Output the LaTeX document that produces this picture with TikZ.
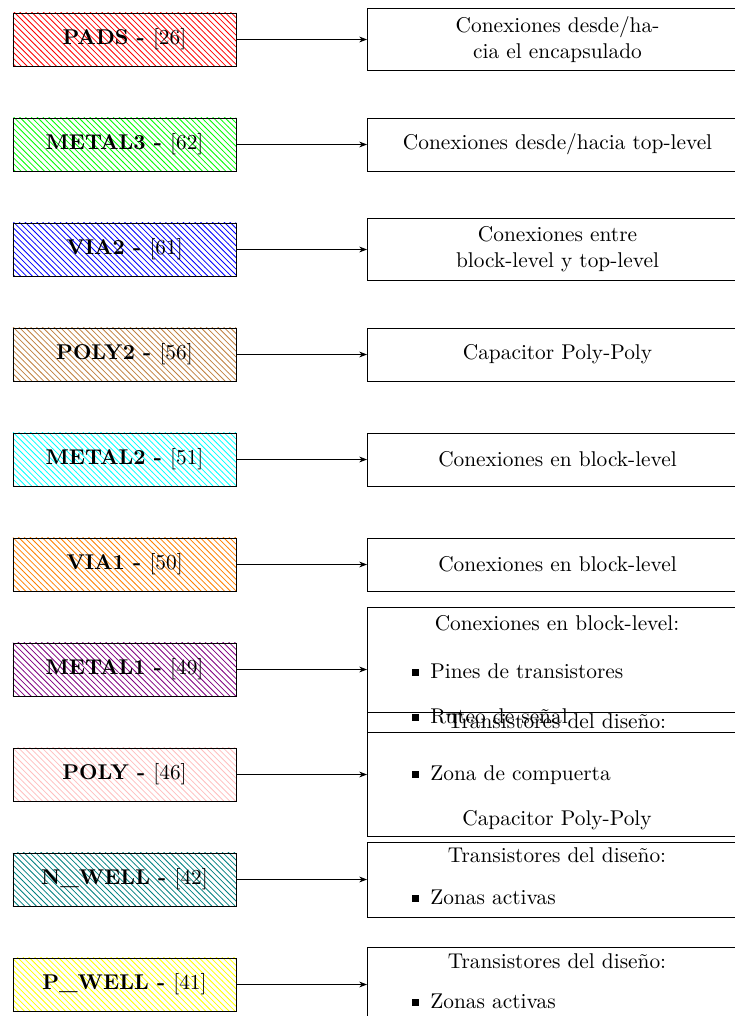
\documentclass[tikz,border=0pt]{standalone}
\usetikzlibrary{patterns,arrows.meta}
\begin{document}
\begin{tikzpicture}[x=0.5128pt,y=-0.5128pt,
  every node/.style={font=\fontsize{10.95pt}{13.2pt}\selectfont},
  layerbox/.style={draw=black, minimum width=114.4pt, minimum height=27.2pt, inner sep=0pt, pattern=north west lines},
  descbox/.style={draw=black, anchor=west, minimum width=195pt, inner sep=0pt, align=center},
  txt/.style={inner sep=0pt, anchor=mid},
  itm/.style={inner sep=0pt, anchor=mid west},
  conn/.style={-{Stealth[length=4pt,width=3pt]}}
]
\newcommand{\sqb}{\raisebox{1.3pt}{\rule{3.2pt}{3.2pt}}\hspace{6pt}}
\useasboundingbox (0,0) rectangle (735,1016);

% left layer boxes
\node[layerbox, pattern color=red]    (L0) at (124.5,39.5)  {\textbf{PADS - }[26]};
\node[layerbox, pattern color=green]  (L1) at (124.5,144.5) {\textbf{METAL3 - }[62]};
\node[layerbox, pattern color=blue]   (L2) at (124.5,249.5) {\textbf{VIA2 - }[61]};
\node[layerbox, pattern color=brown]  (L3) at (124.5,354.5) {\textbf{POLY2 - }[56]};
\node[layerbox, pattern color=cyan]   (L4) at (124.5,459.5) {\textbf{METAL2 - }[51]};
\node[layerbox, pattern color=orange] (L5) at (124.5,564.5) {\textbf{VIA1 - }[50]};
\node[layerbox, pattern color=violet] (L6) at (124.5,669.5) {\textbf{METAL1 - }[49]};
\node[layerbox, pattern color=pink]   (L7) at (124.5,774.5) {\textbf{POLY - }[46]};
\node[layerbox, pattern color=teal]   (L8) at (124.5,879.5) {\textbf{N\_WELL - }[42]};
\node[layerbox, pattern color=yellow] (L9) at (124.5,984.5) {\textbf{P\_WELL - }[41]};

% right description boxes
\node[descbox, minimum height=31.8pt] (R0) at (367,39.5) {Conexiones desde/ha-\\cia el encapsulado};
\node[descbox, minimum height=27.2pt] (R1) at (367,144.5) {Conexiones desde/hacia top-level};
\node[descbox, minimum height=31.8pt] (R2) at (367,249.5) {Conexiones entre\\block-level y top-level};
\node[descbox, minimum height=27.2pt] (R3) at (367,354.5) {Capacitor Poly-Poly};
\node[descbox, minimum height=27.2pt] (R4) at (367,459.5) {Conexiones en block-level};
\node[descbox, minimum height=27.2pt] (R5) at (367,564.5) {Conexiones en block-level};
\node[descbox, minimum height=64.1pt] (R6) at (367,669.5) {};
\node[descbox, minimum height=63.6pt] (R7) at (367,774.5) {};
\node[descbox, minimum height=38.5pt] (R8) at (367,879.5) {};
\node[descbox, minimum height=38.5pt] (R9) at (367,984.5) {};

% texts inside the multi-line boxes
\node[txt] (R6h) at (557,626) {Conexiones en block-level:};
\node[itm] (R6a) at (412,674) {\sqb Pines de transistores};
\node[itm] (R6b) at (412,719) {\sqb Ruteo de se\~nal};
\node[txt] (R7h) at (557,724) {Transistores del dise\~no:};
\node[itm] (R7a) at (412,776) {\sqb Zona de compuerta};
\node[txt] (R7c) at (557,821) {Capacitor Poly-Poly};
\node[txt] (R8h) at (557,858) {Transistores del dise\~no:};
\node[itm] (R8a) at (412,900) {\sqb Zonas activas};
\node[txt] (R9h) at (557,964) {Transistores del dise\~no:};
\node[itm] (R9a) at (412,1004) {\sqb Zonas activas};

% connectors
\foreach \i in {0,...,9} {
  \draw[conn] (L\i) -- (R\i);
}
\end{tikzpicture}
\end{document}
